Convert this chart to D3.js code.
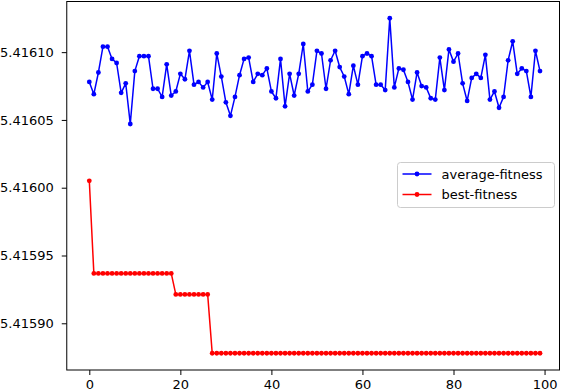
<!DOCTYPE html>
<html>
<head>
<meta charset="utf-8">
<script src="https://cdn.jsdelivr.net/npm/d3@7"></script>
<style>
  body { margin: 0; background: #fff; }
  svg { display: block; font-family: "DejaVu Sans", sans-serif; }
</style>
</head>
<body>
<svg id="chart" width="564" height="391"></svg>
<script>
// average fitness per generation
var averageFitness = [
  5.416078, 5.416069, 5.416085, 5.416104, 5.416104, 5.416095, 5.416092, 5.416070, 5.416077, 5.416047,
  5.416086, 5.416097, 5.416097, 5.416097, 5.416073, 5.416073, 5.416067, 5.416091, 5.416068, 5.416071,
  5.416084, 5.416080, 5.416101, 5.416076, 5.416078, 5.416074, 5.416078, 5.416065, 5.416099, 5.416082,
  5.416063, 5.416053, 5.416067, 5.416083, 5.416095, 5.416096, 5.416078, 5.416084, 5.416083, 5.416088,
  5.416071, 5.416066, 5.416095, 5.416060, 5.416084, 5.416068, 5.416084, 5.416106, 5.416071, 5.416076,
  5.416101, 5.416099, 5.416073, 5.416094, 5.416101, 5.416089, 5.416082, 5.416069, 5.416090, 5.416076,
  5.416097, 5.416099, 5.416097, 5.416076, 5.416076, 5.416072, 5.416125, 5.416074, 5.416088, 5.416087,
  5.416078, 5.416065, 5.416085, 5.416075, 5.416074, 5.416066, 5.416065, 5.416096, 5.416072, 5.416102,
  5.416093, 5.416099, 5.416077, 5.416064, 5.416081, 5.416084, 5.416081, 5.416098, 5.416065, 5.416071,
  5.416059, 5.416067, 5.416094, 5.416108, 5.416084, 5.416088, 5.416086, 5.416067, 5.416101, 5.416086
];

// best fitness per generation
var bestFitness = [
  5.4160051, 5.4159368, 5.4159368, 5.4159368, 5.4159368, 5.4159368, 5.4159368, 5.4159368, 5.4159368, 5.4159368,
  5.4159368, 5.4159368, 5.4159368, 5.4159368, 5.4159368, 5.4159368, 5.4159368, 5.4159368, 5.4159368, 5.4159213,
  5.4159213, 5.4159213, 5.4159213, 5.4159213, 5.4159213, 5.4159213, 5.4159213, 5.4158779, 5.4158779, 5.4158779,
  5.4158779, 5.4158779, 5.4158779, 5.4158779, 5.4158779, 5.4158779, 5.4158779, 5.4158779, 5.4158779, 5.4158779,
  5.4158779, 5.4158779, 5.4158779, 5.4158779, 5.4158779, 5.4158779, 5.4158779, 5.4158779, 5.4158779, 5.4158779,
  5.4158779, 5.4158779, 5.4158779, 5.4158779, 5.4158779, 5.4158779, 5.4158779, 5.4158779, 5.4158779, 5.4158779,
  5.4158779, 5.4158779, 5.4158779, 5.4158779, 5.4158779, 5.4158779, 5.4158779, 5.4158779, 5.4158779, 5.4158779,
  5.4158779, 5.4158779, 5.4158779, 5.4158779, 5.4158779, 5.4158779, 5.4158779, 5.4158779, 5.4158779, 5.4158779,
  5.4158779, 5.4158779, 5.4158779, 5.4158779, 5.4158779, 5.4158779, 5.4158779, 5.4158779, 5.4158779, 5.4158779,
  5.4158779, 5.4158779, 5.4158779, 5.4158779, 5.4158779, 5.4158779, 5.4158779, 5.4158779, 5.4158779, 5.4158779
];

var xTicks = [0, 20, 40, 60, 80, 100];
var yTicks = [5.41590, 5.41595, 5.41600, 5.41605, 5.41610];
var seriesNames = ["average-fitness", "best-fitness"];
var seriesColors = ["#0000ff", "#ff0000"];

var svg = d3.select("#chart"),
    plotTop = 1.5, plotBottom = 370, plotRight = 559.5;

var n = averageFitness.length;
var x = d3.scaleLinear().domain([0, n - 1]).range([89.3, 540]);
var plotLeft = x(-(n - 1) * 0.05);

// matplotlib style 5% margins on y
var all = averageFitness.concat(bestFitness);
var yMin = d3.min(all), yMax = d3.max(all), yPad = (yMax - yMin) * 0.05;
var y = d3.scaleLinear().domain([yMin - yPad, yMax + yPad]).range([plotBottom, plotTop]);

var series = [averageFitness, bestFitness];

var line = d3.line()
    .x(function(d, i) { return x(i); })
    .y(function(d) { return y(d); });

series.forEach(function(vals, k) {
    svg.append("path")
       .datum(vals)
       .attr("fill", "none")
       .attr("stroke", seriesColors[k])
       .attr("stroke-width", 1.5)
       .attr("stroke-linejoin", "round")
       .attr("d", line);
    svg.append("g").selectAll("circle")
       .data(vals)
       .enter().append("circle")
       .attr("cx", function(d, i) { return x(i); })
       .attr("cy", function(d) { return y(d); })
       .attr("r", 2.4)
       .attr("fill", seriesColors[k]);
});

// axes
var xAxis = svg.append("g")
    .attr("transform", "translate(0," + plotBottom + ")")
    .call(d3.axisBottom(x).tickValues(xTicks).tickSize(5).tickPadding(5).tickSizeOuter(0));
var yAxis = svg.append("g")
    .attr("transform", "translate(" + plotLeft + ",0)")
    .call(d3.axisLeft(y).tickValues(yTicks).tickFormat(d3.format(".5f")).tickSize(5).tickPadding(8).tickSizeOuter(0));

[xAxis, yAxis].forEach(function(a) {
    a.select(".domain").remove();
    a.selectAll("line").attr("stroke", "#000").attr("stroke-width", 1);
    a.selectAll("text").attr("fill", "#000").style("font-size", "13px").style("font-family", "DejaVu Sans");
});

// frame
svg.append("rect")
   .attr("x", plotLeft).attr("y", plotTop)
   .attr("width", plotRight - plotLeft).attr("height", plotBottom - plotTop)
   .attr("fill", "none").attr("stroke", "#000").attr("stroke-width", 1);

// legend
var lg = svg.append("g").attr("transform", "translate(397.5,162.5)");
lg.append("rect")
  .attr("width", 157).attr("height", 45)
  .attr("rx", 3).attr("ry", 3)
  .attr("fill", "#fff").attr("fill-opacity", 0.8)
  .attr("stroke", "#cccccc").attr("stroke-width", 1);
seriesNames.forEach(function(name, k) {
    var ly = 11.5 + k * 20.5;
    lg.append("line")
      .attr("x1", 5).attr("x2", 34).attr("y1", ly).attr("y2", ly)
      .attr("stroke", seriesColors[k]).attr("stroke-width", 1.5);
    lg.append("circle").attr("cx", 19.5).attr("cy", ly).attr("r", 2.4).attr("fill", seriesColors[k]);
    lg.append("text")
      .attr("x", 44).attr("y", ly).attr("dy", "0.35em")
      .style("font-size", "13px").attr("fill", "#000")
      .text(name);
});
</script>
</body>
</html>
